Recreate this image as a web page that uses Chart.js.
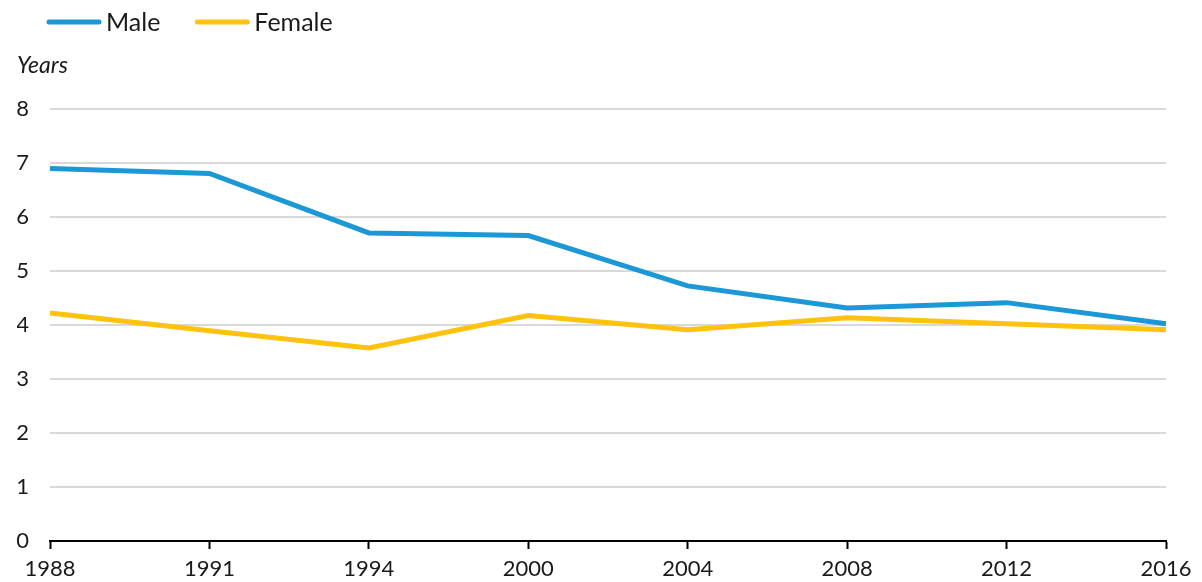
<!DOCTYPE html>
<html>
<head>
<meta charset="utf-8">
<script src="https://cdn.jsdelivr.net/npm/chart.js@4"></script>
<style>
  html, body { margin: 0; padding: 0; background: #fff; }
  #wrap { width: 1202px; height: 582px; }
</style>
</head>
<body>
<div id="wrap"><canvas id="chart" width="1202" height="582"></canvas></div>
<script>
// data
const years = ['1988', '1991', '1994', '2000', '2004', '2008', '2012', '2016'];
const maleValues = [6.89, 6.80, 5.70, 5.65, 4.72, 4.31, 4.41, 4.02];
const femaleValues = [4.22, 3.89, 3.57, 4.17, 3.91, 4.13, 4.02, 3.91];
const yTicks = [0, 1, 2, 3, 4, 5, 6, 7, 8];

const BLUE = '#1b98d5';
const YELLOW = '#ffc20e';
const TEXT = '#1a1a1a';
const FONT = 'Lato, "Open Sans", sans-serif';

Chart.defaults.font.family = FONT;
Chart.defaults.color = TEXT;

// legend drawn by hand: line swatch + label, left aligned at the top
const lineLegend = {
    id: 'lineLegend',
    afterDraw(chart) {
        const ctx = chart.ctx;
        ctx.save();
        ctx.font = '25px ' + FONT;
        ctx.textBaseline = 'middle';
        ctx.lineCap = 'round';
        ctx.lineWidth = 5;
        let x = 49;
        const y = 22;
        chart.data.datasets.forEach(ds => {
            ctx.strokeStyle = ds.borderColor;
            ctx.beginPath();
            ctx.moveTo(x, y);
            ctx.lineTo(x + 50, y);
            ctx.stroke();
            ctx.fillStyle = TEXT;
            ctx.fillText(ds.label, x + 57, y + 1);
            x += 57 + ctx.measureText(ds.label).width + 37;
        });
        ctx.restore();
    }
};

new Chart(document.getElementById('chart').getContext('2d'), {
    type: 'line',
    data: {
        labels: years,
        datasets: [
            { label: 'Male', data: maleValues, borderColor: BLUE, backgroundColor: BLUE, borderWidth: 5, pointRadius: 0, tension: 0 },
            { label: 'Female', data: femaleValues, borderColor: YELLOW, backgroundColor: YELLOW, borderWidth: 5, pointRadius: 0, tension: 0 }
        ]
    },
    plugins: [lineLegend],
    options: {
        responsive: false,
        animation: false,
        layout: { padding: { left: 17, right: 36, top: 40, bottom: 0 } },
        plugins: {
            legend: { display: false },
            title: {
                display: true,
                text: 'Years',
                align: 'start',
                font: { size: 23, style: 'italic', weight: 'normal' },
                color: TEXT,
                padding: { top: 12, bottom: 29 }
            },
            tooltip: { enabled: false }
        },
        scales: {
            x: {
                offset: false,
                afterFit: axis => { axis.height = 41; },
                border: { display: true, color: '#000', width: 2 },
                grid: { drawOnChartArea: false, drawTicks: true, tickLength: 8, tickColor: '#000', tickWidth: 2 },
                ticks: { font: { size: 22, lineHeight: 1 }, color: TEXT, maxRotation: 0, autoSkip: false, padding: 9 }
            },
            y: {
                min: 0,
                max: 8,
                afterBuildTicks: axis => { axis.ticks = yTicks.map(v => ({ value: v })); },
                afterFit: axis => { axis.width = 33; },
                border: { display: false },
                grid: { color: '#d9d9d9', lineWidth: 2, drawTicks: false },
                ticks: { font: { size: 22 }, color: TEXT, padding: 21 }
            }
        }
    }
});
</script>
</body>
</html>
